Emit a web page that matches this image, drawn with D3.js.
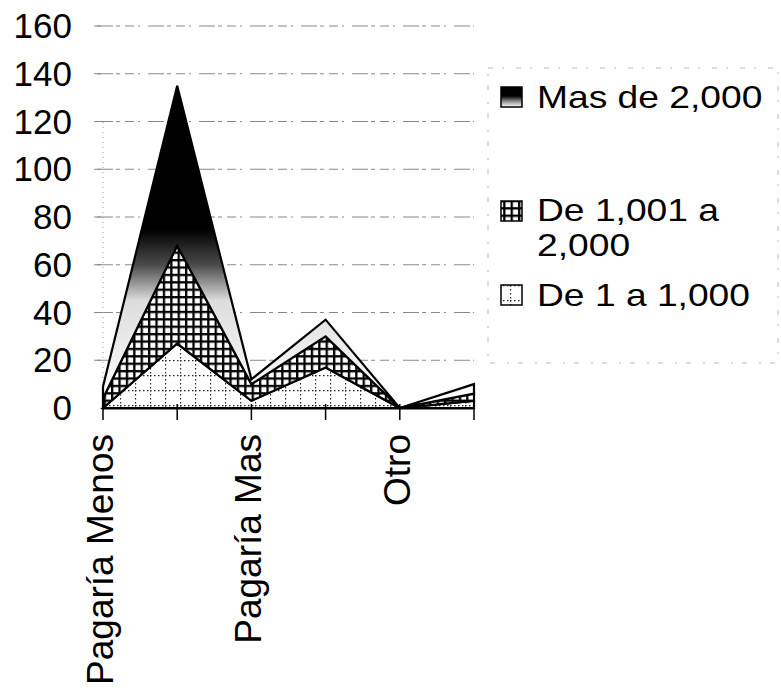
<!DOCTYPE html>
<html>
<head>
<meta charset="utf-8">
<title>Area apilada</title>
<script src="https://d3js.org/d3.v7.min.js"></script>
<style>
  body { margin: 0; background: #fff; }
  svg text { font-family: "Liberation Sans", Arial, Helvetica, sans-serif; fill: #000; }
</style>
</head>
<body>
<svg width="781" height="699"></svg>
<script>
// data
var categories = [0, 1, 2, 3, 4, 5];
var tickLabels = ["Pagaría Menos", "", "Pagaría Mas", "", "Otro", ""];
var yTicks = [0, 20, 40, 60, 80, 100, 120, 140, 160];

var seriesNames = ["De 1 a 1,000", "De 1,001 a 2,000", "Mas de 2,000"];
var de1a1000 = [0, 27, 3, 17, 0, 3];
var de1001a2000 = [4, 41, 7, 13, 0, 3];
var masDe2000 = [5, 67, 2, 7, 0, 4];

var rows = categories.map(function(c, i) {
  return { cat: c, s0: de1a1000[i], s1: de1001a2000[i], s2: masDe2000[i] };
});

var svg = d3.select("svg");

var x = d3.scalePoint().domain(categories).range([103, 474]);
var y = d3.scaleLinear().domain([0, 160]).range([408, 26]);

var defs = svg.append("defs");

// dotted grid fill for the bottom series
var pDot = defs.append("pattern").attr("id", "dots")
    .attr("patternUnits", "userSpaceOnUse").attr("width", 15).attr("height", 15);
pDot.append("rect").attr("width", 15).attr("height", 15).attr("fill", "#fff");
pDot.append("line").attr("x1", 0).attr("y1", 0.5).attr("x2", 15).attr("y2", 0.5)
    .attr("stroke", "#222").attr("stroke-width", 1.3).attr("stroke-dasharray", "1.5,2.5");
pDot.append("line").attr("x1", 0.5).attr("y1", 0).attr("x2", 0.5).attr("y2", 15)
    .attr("stroke", "#222").attr("stroke-width", 1.3).attr("stroke-dasharray", "1.5,2.5");

// crosshatch for the middle series
var pGrid = defs.append("pattern").attr("id", "hatch")
    .attr("patternUnits", "userSpaceOnUse").attr("width", 7.4).attr("height", 7.4);
pGrid.append("rect").attr("width", 7.4).attr("height", 7.4).attr("fill", "#fff");
pGrid.append("rect").attr("width", 7.4).attr("height", 2.3).attr("fill", "#000");
pGrid.append("rect").attr("width", 2.3).attr("height", 7.4).attr("fill", "#000");

// black to white gradient for the top series
var gTop = y(135), gBot = y(0);
function off(v) { return ((y(v) - gTop) / (gBot - gTop) * 100) + "%"; }
var grad = defs.append("linearGradient").attr("id", "fade")
    .attr("gradientUnits", "userSpaceOnUse")
    .attr("x1", 0).attr("y1", gTop).attr("x2", 0).attr("y2", gBot);
[[off(135), "#000"], [off(75), "#000"], [off(60), "#4a4a4a"], [off(45), "#ddd"], [off(0), "#fff"]]
  .forEach(function(s) { grad.append("stop").attr("offset", s[0]).attr("stop-color", s[1]); });

var gradLeg = defs.append("linearGradient").attr("id", "fadeLeg")
    .attr("x1", 0).attr("y1", 0).attr("x2", 0).attr("y2", 1);
[["0%", "#000"], ["45%", "#000"], ["70%", "#888"], ["100%", "#fff"]]
  .forEach(function(s) { gradLeg.append("stop").attr("offset", s[0]).attr("stop-color", s[1]); });

var fills = ["url(#dots)", "url(#hatch)", "url(#fade)"];
var legFills = ["url(#dots)", "url(#hatch)", "url(#fadeLeg)"];

// gridlines (scanned look)
svg.append("g").selectAll("line")
  .data(yTicks.slice(1))
  .enter().append("line")
    .attr("x1", 97).attr("x2", 474)
    .attr("y1", function(d) { return y(d); })
    .attr("y2", function(d) { return y(d); })
    .attr("stroke", "#888").attr("stroke-width", 1)
    .attr("stroke-dasharray", "16,3,4,5,9,4,2,8");

// faint value axis
svg.append("line")
    .attr("x1", 103).attr("x2", 103).attr("y1", y(0)).attr("y2", y(120))
    .attr("stroke", "#999").attr("stroke-dasharray", "1,4");
svg.append("g").selectAll("line")
  .data(yTicks.slice(1))
  .enter().append("line")
    .attr("x1", 94).attr("x2", 101)
    .attr("y1", function(d) { return y(d); })
    .attr("y2", function(d) { return y(d); })
    .attr("stroke", "#888");

// stacked areas
var stack = d3.stack().keys(["s0", "s1", "s2"]);
var layers = stack(rows);

var area = d3.area()
    .x(function(d) { return x(d.data.cat); })
    .y0(function(d) { return y(d[0]); })
    .y1(function(d) { return y(d[1]); });

svg.append("g").selectAll("path")
  .data(layers)
  .enter().append("path")
    .attr("d", area)
    .attr("fill", function(d, i) { return fills[i]; })
    .attr("stroke", "#000")
    .attr("stroke-width", 2.2)
    .attr("stroke-linejoin", "miter");

// category axis
var xAxis = svg.append("g").attr("transform", "translate(0," + y(0) + ")");
xAxis.append("line").attr("x1", 103).attr("x2", 474).attr("y1", 0.5).attr("y2", 0.5)
    .attr("stroke", "#000").attr("stroke-width", 2);
xAxis.selectAll(".tk")
  .data(categories)
  .enter().append("line")
    .attr("class", "tk")
    .attr("x1", function(d) { return x(d); })
    .attr("x2", function(d) { return x(d); })
    .attr("y1", -4).attr("y2", 12)
    .attr("stroke", "#000").attr("stroke-width", 1.5);

svg.append("g").selectAll("text")
  .data(categories.filter(function(d, i) { return tickLabels[i] !== ""; }))
  .enter().append("text")
    .attr("transform", function(d) { return "translate(" + (x(d) + 10) + ",434) rotate(-90)"; })
    .attr("text-anchor", "end")
    .style("font-size", "37px")
    .text(function(d) { return tickLabels[d]; });

// value labels
svg.append("g").selectAll("text")
  .data(yTicks)
  .enter().append("text")
    .attr("x", 72)
    .attr("y", function(d) { return y(d) + 12; })
    .attr("text-anchor", "end")
    .style("font-size", "35px")
    .text(function(d) { return d; });

// legend (box barely visible in the scan)
svg.append("rect")
    .attr("x", 488).attr("y", 68).attr("width", 290).attr("height", 295)
    .attr("fill", "none").attr("stroke", "#bbb").attr("stroke-width", 1)
    .attr("stroke-dasharray", "5,9,2,12");

var legItems = [
  { name: seriesNames[2], fill: legFills[2], box: 87, lines: [108] },
  { name: seriesNames[1], fill: legFills[1], box: 201, lines: [221, 256] },
  { name: seriesNames[0], fill: legFills[0], box: 285, lines: [306] }
];
var leg = svg.append("g");
legItems.forEach(function(it) {
  leg.append("rect")
      .attr("x", 501).attr("y", it.box).attr("width", 21).attr("height", 20)
      .attr("fill", it.fill).attr("stroke", "#000").attr("stroke-width", 1.5);
  var parts = it.lines.length > 1 ? ["De 1,001 a", "2,000"] : [it.name];
  parts.forEach(function(p, j) {
    leg.append("text")
        .attr("transform", "translate(537," + it.lines[j] + ") scale(1.2,1)")
        .style("font-size", "31px")
        .text(p);
  });
});
</script>
</body>
</html>
